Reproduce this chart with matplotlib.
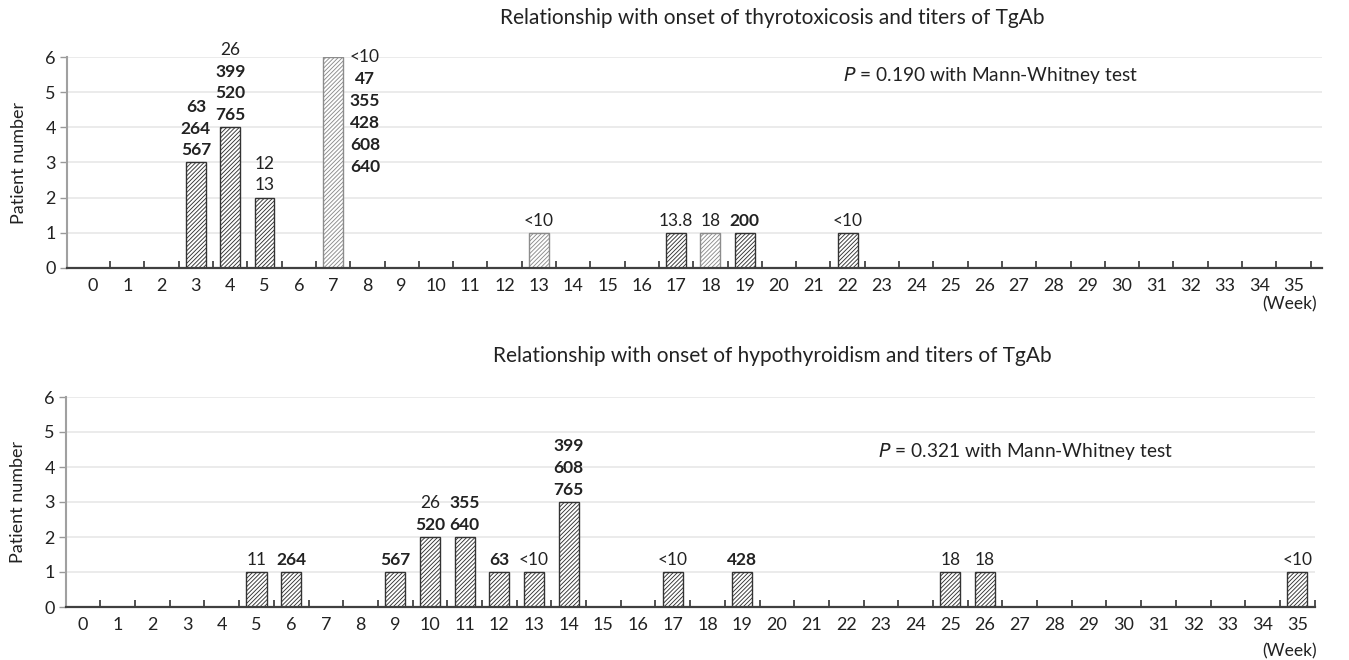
import matplotlib
matplotlib.use("Agg")
import matplotlib.pyplot as plt

plt.rcParams['font.family'] = ['Lato', 'DejaVu Sans']
plt.rcParams['hatch.linewidth'] = 0.65

weeks = list(range(36))

# thyrotoxicosis onset
thyro_weeks = [3, 4, 5, 7, 13, 17, 18, 19, 22]
thyro_counts = [3, 4, 2, 6, 1, 1, 1, 1, 1]
thyro_light = [7, 13, 18]
# each label line: (text, bold)
thyro_labels = [
    [("63", True), ("264", True), ("567", True)],
    [("26", False), ("399", True), ("520", True), ("765", True)],
    [("12", False), ("13", False)],
    [("<10", False), ("47", True), ("355", True), ("428", True), ("608", True), ("640", True)],
    [("<10", False)],
    [("13.8", False)],
    [("18", False)],
    [("200", True)],
    [("<10", False)],
]

# hypothyroidism onset
hypo_weeks = [5, 6, 9, 10, 11, 12, 13, 14, 17, 19, 25, 26, 35]
hypo_counts = [1, 1, 1, 2, 2, 1, 1, 3, 1, 1, 1, 1, 1]
hypo_labels = [
    [("11", False)],
    [("264", True)],
    [("567", True)],
    [("26", False), ("520", True)],
    [("355", True), ("640", True)],
    [("63", True)],
    [("<10", False)],
    [("399", True), ("608", True), ("765", True)],
    [("<10", False)],
    [("428", True)],
    [("18", False)],
    [("18", False)],
    [("<10", False)],
]

W, H = 1349, 660
fig = plt.figure(figsize=(W / 100, H / 100), dpi=100)
TXT = '#222222'


def px_axes(left, right, bottom, top):
    return fig.add_axes([left / W, 1 - bottom / H, (right - left) / W, (bottom - top) / H])


def draw(ax, xs, counts, labels, light, xlim, side_week=None):
    colors = ['#8c8c8c' if x in light else '#333333' for x in xs]
    ax.bar(xs, counts, width=0.58, color='white', edgecolor=colors,
           hatch='////////', linewidth=1.0, zorder=3)
    ax.set_xlim(*xlim)
    ax.set_ylim(0, 6)
    ax.set_yticks(range(7))
    ax.yaxis.grid(True, color='#e8e8e8', linewidth=1.2, zorder=0)
    ax.set_xticks(weeks)
    ax.set_xticks([w + 0.5 for w in weeks], minor=True)
    ax.tick_params(axis='x', which='major', length=0, pad=7, labelsize=13, colors=TXT)
    ax.tick_params(axis='x', which='minor', direction='in', length=5, width=1.2, color='#333333')
    ax.tick_params(axis='y', length=5, width=1, color='#999999', labelsize=13, pad=3,
                   labelcolor=TXT)
    for s in ('top', 'right'):
        ax.spines[s].set_visible(False)
    ax.spines['left'].set_color('#a0a0a0')
    ax.spines['left'].set_linewidth(1.5)
    ax.spines['bottom'].set_color('#404040')
    ax.spines['bottom'].set_linewidth(1.6)
    ax.spines['bottom'].set_zorder(4)
    ax.set_ylabel('Patient number', fontsize=13, color=TXT)
    ax.yaxis.set_label_coords(-0.032, 0.5)

    for x, c, lines in zip(xs, counts, labels):
        if x == side_week:
            for i, (t, b) in enumerate(lines):
                ax.annotate(t, (x, c), xytext=(23, -i * 15.8), textcoords='offset points',
                            ha='center', va='center', fontsize=12.5,
                            fontweight='bold' if b else 'normal', color=TXT,
                            annotation_clip=False)
        else:
            n = len(lines)
            for i, (t, b) in enumerate(lines):
                ax.annotate(t, (x, c), xytext=(0, 8.8 + (n - 1 - i) * 15.6),
                            textcoords='offset points', ha='center', va='center',
                            fontsize=12.5, fontweight='bold' if b else 'normal',
                            color=TXT, annotation_clip=False)
    return ax


ax1 = px_axes(67, 1322, 268, 57)
draw(ax1, thyro_weeks, thyro_counts, thyro_labels, thyro_light, (-0.758, 35.83), side_week=7)
fig.text(772 / W, 1 - 18 / H, 'Relationship with onset of thyrotoxicosis and titers of TgAb',
         ha='center', va='center', fontsize=15, color=TXT)
fig.text(843 / W, 1 - 76 / H, r'$\it{P}$ = 0.190 with Mann-Whitney test',
         ha='left', va='center', fontsize=13.8, color=TXT)
fig.text(1290 / W, 1 - 304 / H, '(Week)', ha='center', va='center', fontsize=12.5,
         color=TXT)

ax2 = px_axes(66, 1315, 607, 397)
draw(ax2, hypo_weeks, hypo_counts, hypo_labels, [], (-0.49, 35.51))
fig.text(772 / W, 1 - 356 / H, 'Relationship with onset of hypothyroidism and titers of TgAb',
         ha='center', va='center', fontsize=15, color=TXT)
fig.text(878 / W, 1 - 451 / H, r'$\it{P}$ = 0.321 with Mann-Whitney test',
         ha='left', va='center', fontsize=13.8, color=TXT)
fig.text(1290 / W, 1 - 651 / H, '(Week)', ha='center', va='center', fontsize=12.5,
         color=TXT)

fig.savefig('out.png', dpi=100)
